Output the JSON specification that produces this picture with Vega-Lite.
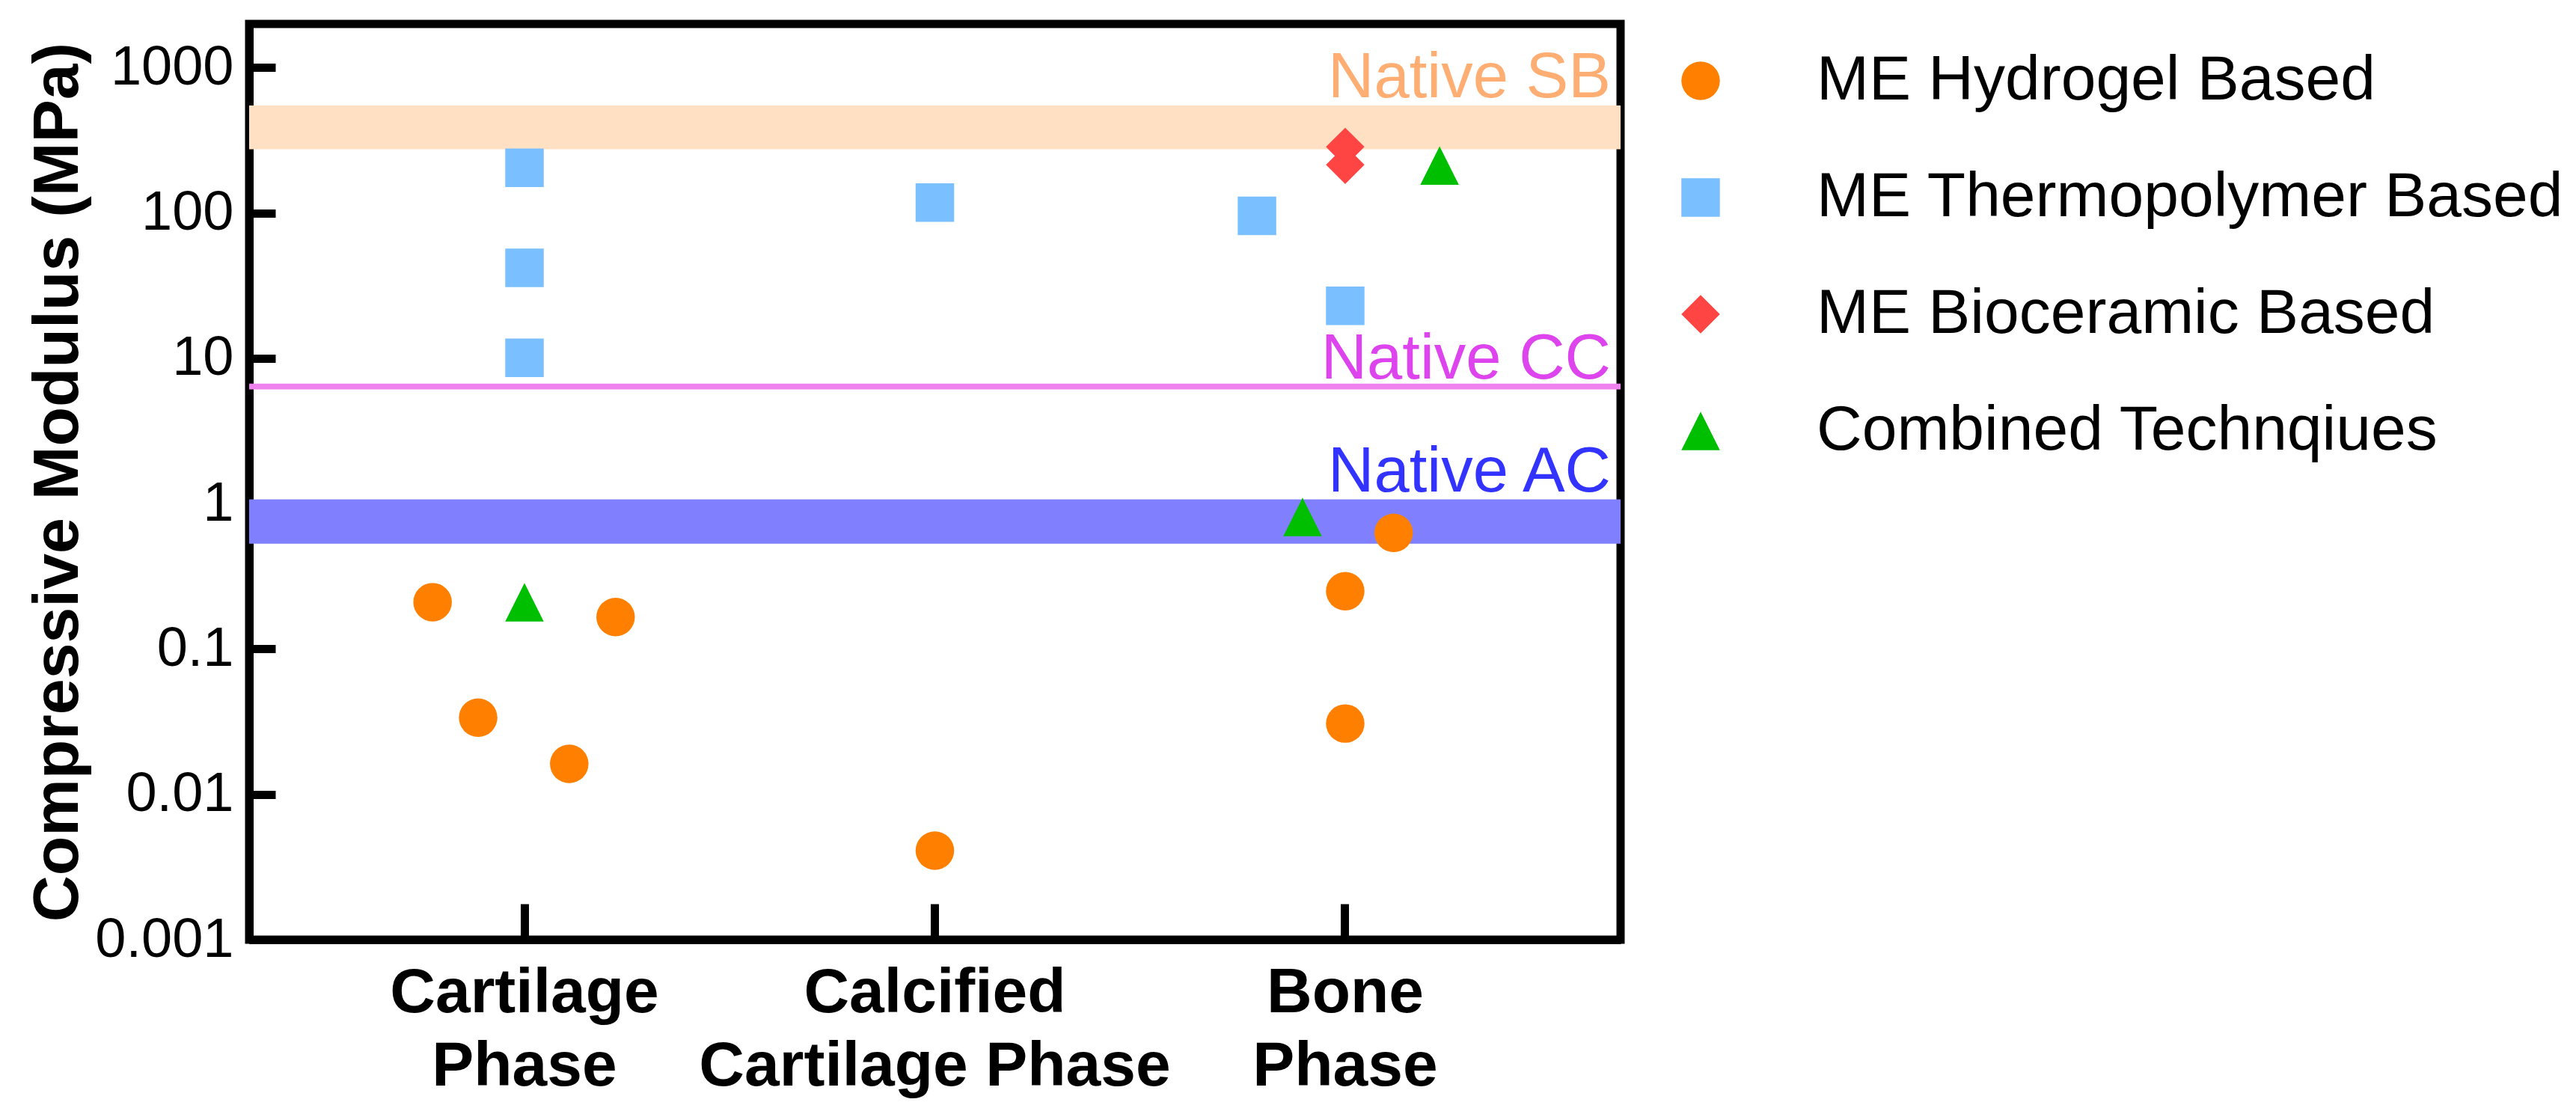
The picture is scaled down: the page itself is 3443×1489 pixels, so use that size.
{
  "$schema": "https://vega.github.io/schema/vega-lite/v6.json",
  "width": 1833,
  "height": 1224,
  "autosize": {"type": "none"},
  "padding": {"left": 333, "top": 32, "right": 1277, "bottom": 233},
  "background": "white",
  "config": {
    "font": "Liberation Sans",
    "view": {"stroke": "black", "strokeWidth": 11},
    "axis": {
      "grid": false,
      "domainColor": "black",
      "domainWidth": 11,
      "tickColor": "black",
      "tickWidth": 11,
      "labelColor": "black",
      "titleColor": "black",
      "labelFont": "Liberation Sans",
      "titleFont": "Liberation Sans",
      "zindex": 1,
      "labelOverlap": false,
      "labelFlush": false,
      "labelLimit": 3000,
      "titleLimit": 3000
    },
    "legend": {
      "title": null,
      "orient": "none",
      "legendX": 1898,
      "legendY": 34,
      "padding": 0,
      "symbolSize": 2650,
      "symbolStrokeWidth": 0,
      "symbolOpacity": 1,
      "labelFont": "Liberation Sans",
      "labelFontSize": 84,
      "labelColor": "black",
      "labelOffset": 113,
      "labelLimit": 3000,
      "rowPadding": 72
    }
  },
  "datasets": {
    "bands": [
      {"band": "Native SB", "low": 275, "high": 550},
      {"band": "Native AC", "low": 0.53, "high": 1.07}
    ],
    "lines": [
      {"band": "Native CC", "value": 6.4}
    ],
    "labels": [
      {"label": "Native SB", "value": 550},
      {"label": "Native CC", "value": 6.4},
      {"label": "Native AC", "value": 1.07}
    ],
    "points": [
      {"phase": "Cartilage Phase", "method": "ME Hydrogel Based", "jitter": -0.224, "modulus": 0.21},
      {"phase": "Cartilage Phase", "method": "ME Hydrogel Based", "jitter": -0.113, "modulus": 0.0337},
      {"phase": "Cartilage Phase", "method": "ME Hydrogel Based", "jitter": 0.109, "modulus": 0.0162},
      {"phase": "Cartilage Phase", "method": "ME Hydrogel Based", "jitter": 0.222, "modulus": 0.166},
      {"phase": "Cartilage Phase", "method": "ME Thermopolymer Based", "jitter": 0, "modulus": 205},
      {"phase": "Cartilage Phase", "method": "ME Thermopolymer Based", "jitter": 0, "modulus": 42},
      {"phase": "Cartilage Phase", "method": "ME Thermopolymer Based", "jitter": 0, "modulus": 10.1},
      {"phase": "Cartilage Phase", "method": "Combined Technqiues", "jitter": 0, "modulus": 0.21},
      {"phase": "Calcified Cartilage Phase", "method": "ME Thermopolymer Based", "jitter": 0, "modulus": 118},
      {"phase": "Calcified Cartilage Phase", "method": "ME Hydrogel Based", "jitter": 0, "modulus": 0.0041},
      {"phase": "Bone Phase", "method": "ME Thermopolymer Based", "jitter": -0.215, "modulus": 95.7},
      {"phase": "Bone Phase", "method": "ME Thermopolymer Based", "jitter": 0, "modulus": 23},
      {"phase": "Bone Phase", "method": "ME Bioceramic Based", "jitter": 0, "modulus": 285},
      {"phase": "Bone Phase", "method": "ME Bioceramic Based", "jitter": 0, "modulus": 215},
      {"phase": "Bone Phase", "method": "Combined Technqiues", "jitter": 0.23, "modulus": 212},
      {"phase": "Bone Phase", "method": "Combined Technqiues", "jitter": -0.104, "modulus": 0.81},
      {"phase": "Bone Phase", "method": "ME Hydrogel Based", "jitter": 0.118, "modulus": 0.63},
      {"phase": "Bone Phase", "method": "ME Hydrogel Based", "jitter": 0, "modulus": 0.25},
      {"phase": "Bone Phase", "method": "ME Hydrogel Based", "jitter": 0, "modulus": 0.0307}
    ]
  },
  "layer": [
    {
      "data": {"name": "bands"},
      "mark": {"type": "rect"},
      "encoding": {
        "y": {"field": "low", "type": "quantitative", "scale": {"type": "log", "domain": [0.001, 2000], "nice": false}},
        "y2": {"field": "high"},
        "fill": {"condition": {"test": "datum.band === 'Native SB'", "value": "#FFE0C2"}, "value": "#8080FF"}
      }
    },
    {
      "data": {"name": "lines"},
      "mark": {"type": "rule", "color": "#EE82EE", "strokeWidth": 7.6},
      "encoding": {
        "y": {"field": "value", "type": "quantitative"}
      }
    },
    {
      "data": {"name": "labels"},
      "mark": {"type": "text", "align": "right", "baseline": "alphabetic", "fontSize": 85, "dx": -13, "dy": -11, "font": "Liberation Sans"},
      "encoding": {
        "x": {"value": "width"},
        "y": {"field": "value", "type": "quantitative"},
        "text": {"field": "label"},
        "color": {
          "condition": [
            {"test": "datum.label === 'Native SB'", "value": "#FFAE73"},
            {"test": "datum.label === 'Native CC'", "value": "#DD44EE"}
          ],
          "value": "#3333FF"
        }
      }
    },
    {
      "data": {"name": "points"},
      "mark": {"type": "point", "filled": true, "opacity": 1, "size": 2650, "strokeWidth": 0},
      "encoding": {
        "x": {
          "field": "phase",
          "type": "nominal",
          "sort": ["Cartilage Phase", "Calcified Cartilage Phase", "Bone Phase"],
          "scale": {"type": "band", "paddingInner": 0, "paddingOuter": 0.171},
          "axis": {
            "title": null,
            "labelAngle": 0,
            "labelFontSize": 84,
            "labelFontWeight": "bold",
            "labelExpr": "datum.value === 'Cartilage Phase' ? ['Cartilage', 'Phase'] : datum.value === 'Calcified Cartilage Phase' ? ['Calcified', 'Cartilage Phase'] : ['Bone', 'Phase']",
            "labelLineHeight": 98,
            "labelLimit": 3000,
            "tickSize": -48,
            "labelPadding": 78
          }
        },
        "xOffset": {"field": "jitter", "type": "quantitative", "scale": {"domain": [-0.5, 0.5]}},
        "y": {
          "field": "modulus",
          "type": "quantitative",
          "scale": {"type": "log", "domain": [0.001, 2000], "nice": false},
          "axis": {
            "title": "Compressive Modulus (MPa)",
            "titleFontSize": 86,
            "titleFontWeight": "bold",
            "titlePadding": 12,
            "values": [0.001, 0.01, 0.1, 1, 10, 100, 1000],
            "format": "~g",
            "labelFontSize": 74,
            "labelLimit": 3000,
            "tickSize": -35,
            "labelPadding": 56
          }
        },
        "color": {
          "field": "method",
          "type": "nominal",
          "scale": {
            "domain": ["ME Hydrogel Based", "ME Thermopolymer Based", "ME Bioceramic Based", "Combined Technqiues"],
            "range": ["#FF8000", "#7ABFFF", "#FF4444", "#00BF00"]
          }
        },
        "shape": {
          "field": "method",
          "type": "nominal",
          "scale": {
            "domain": ["ME Hydrogel Based", "ME Thermopolymer Based", "ME Bioceramic Based", "Combined Technqiues"],
            "range": ["circle", "square", "diamond", "M0,-1L-1,1L1,1Z"]
          }
        }
      }
    }
  ]
}
